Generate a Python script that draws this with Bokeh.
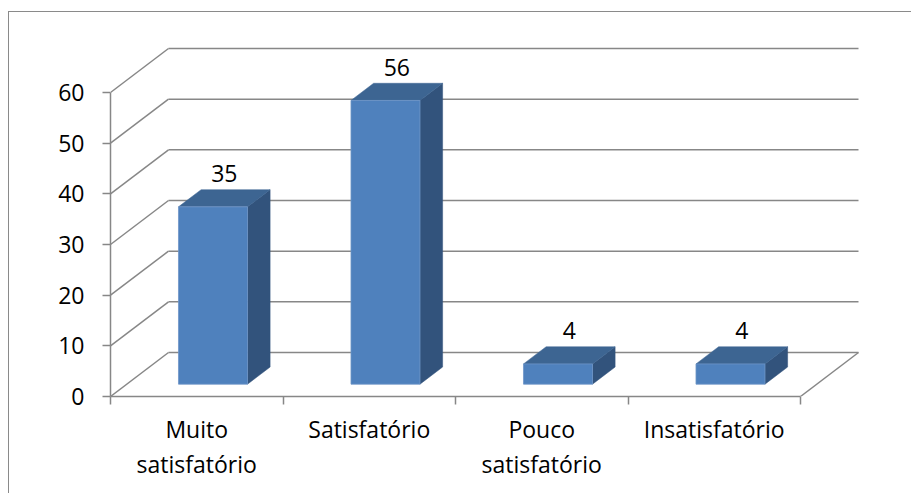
from bokeh.plotting import figure
from bokeh.models import Range1d, LinearAxis, FixedTicker, ColumnDataSource
from bokeh.core.properties import value
from bokeh.embed import file_html
from bokeh.resources import INLINE

# ---------------- data ----------------
categories = ["Muito\nsatisfatório", "Satisfatório", "Pouco\nsatisfatório", "Insatisfatório"]
values = [35, 56, 4, 4]
y_ticks = [0, 10, 20, 30, 40, 50, 60]

# ---------------- layout / style ----------------
FONT = "Open Sans"
FS = "23px"
OX, OY = 9, 12                 # canvas origin on the page (after margin + border)
W, H = 903, 482
FRAME_L, FRAME_T, FRAME_R, FRAME_B = 110, 20, 905, 396   # frame edges on the page
PX_PER_CAT = 172.5
PX_PER_VAL = 5.067
DEPTH_PX_X, DEPTH_PX_Y = 58, 44    # oblique depth of the floor
BAR_W = 0.4
BAR_F, BAR_B = 0.28, 0.67          # bar front/back depth fractions
GRID = "#878787"
FRONT, TOP, SIDE = "#4F81BD", "#3D6592", "#32537C"

DX = DEPTH_PX_X / PX_PER_CAT
DY = DEPTH_PX_Y / PX_PER_VAL
ncat = len(categories)
x_end = (FRAME_R - FRAME_L) / PX_PER_CAT
y_end = (FRAME_B - FRAME_T) / PX_PER_VAL

p = figure(width=W, height=H,
           x_range=Range1d(0, x_end), y_range=Range1d(0, y_end),
           output_backend="svg", toolbar_location=None,
           x_axis_type=None, y_axis_type=None,
           min_border_left=FRAME_L - OX, min_border_right=W - (FRAME_R - OX),
           min_border_top=FRAME_T - OY, min_border_bottom=H - (FRAME_B - OY))
p.outline_line_color = None
p.background_fill_color = "white"
p.border_fill_color = "white"
p.margin = (11, 0, 0, 8)
p.styles = {"border-top": "1px solid #8a8a8a", "border-left": "1px solid #8a8a8a"}

# ---------------- axes ----------------
yax = LinearAxis(ticker=FixedTicker(ticks=y_ticks, minor_ticks=[]), bounds=(y_ticks[0], y_ticks[-1]))
yax.axis_line_color = GRID
yax.axis_line_width = 1.5
yax.major_tick_line_color = GRID
yax.major_tick_line_width = 1.5
yax.major_tick_out = 8
yax.major_tick_in = 0
yax.minor_tick_line_color = None
yax.major_label_standoff = 18
yax.major_label_text_font = FONT
yax.major_label_text_font_size = FS
yax.major_label_text_color = "black"
p.add_layout(yax, "left")

centers = [i + 0.5 for i in range(ncat)]
xax = LinearAxis(ticker=FixedTicker(ticks=centers, minor_ticks=list(range(ncat + 1))), bounds=(0, ncat))
xax.major_label_overrides = {c: lab for c, lab in zip(centers, categories)}
xax.axis_line_color = GRID
xax.axis_line_width = 1.5
xax.major_tick_out = 0
xax.major_tick_in = 0
xax.major_tick_line_color = None
xax.minor_tick_line_color = GRID
xax.minor_tick_line_width = 1.5
xax.minor_tick_out = 8
xax.minor_tick_in = 0
xax.major_label_standoff = 8
xax.major_label_text_font = FONT
xax.major_label_text_font_size = FS
xax.major_label_text_color = "black"
xax.major_label_text_line_height = 1.1
p.add_layout(xax, "below")

# ---------------- walls / floor ----------------
# back wall gridlines
p.segment(x0=[DX] * len(y_ticks), y0=[t + DY for t in y_ticks],
          x1=[ncat + DX] * len(y_ticks), y1=[t + DY for t in y_ticks],
          line_color=GRID, line_width=1.5)
# side wall diagonals
p.segment(x0=[0] * len(y_ticks), y0=y_ticks,
          x1=[DX] * len(y_ticks), y1=[t + DY for t in y_ticks],
          line_color=GRID, line_width=1.5)
# floor right edge
p.segment(x0=[ncat], y0=[0], x1=[ncat + DX], y1=[DY], line_color=GRID, line_width=1.5)

# ---------------- 3D bars ----------------
fx, fy, tx, ty, sx, sy = [], [], [], [], [], []
for i, v in enumerate(values):
    xl = i + 0.5 - BAR_W / 2
    xr = i + 0.5 + BAR_W / 2
    fdx, fdy = BAR_F * DX, BAR_F * DY
    bdx, bdy = BAR_B * DX, BAR_B * DY
    fx.append([xl + fdx, xr + fdx, xr + fdx, xl + fdx])
    fy.append([fdy, fdy, v + fdy, v + fdy])
    tx.append([xl + fdx, xr + fdx, xr + bdx, xl + bdx])
    ty.append([v + fdy, v + fdy, v + bdy, v + bdy])
    sx.append([xr + fdx, xr + bdx, xr + bdx, xr + fdx])
    sy.append([fdy, bdy, v + bdy, v + fdy])

p.patches(xs=sx, ys=sy, fill_color=SIDE, line_color=SIDE, line_width=0.5)
p.patches(xs=tx, ys=ty, fill_color=TOP, line_color=TOP, line_width=0.5)
p.patches(xs=fx, ys=fy, fill_color=FRONT, line_color="#6E95C8", line_width=0.8)

# ---------------- value labels ----------------
lab = ColumnDataSource(dict(
    x=[i + 0.5 + (BAR_F + BAR_B) / 2 * DX for i in range(ncat)],
    y=[v + BAR_B * DY for v in values],
    t=[str(v) for v in values]))
p.text(x="x", y="y", text="t", source=lab, text_align="center", text_baseline="alphabetic",
       y_offset=-16, text_font=value(FONT), text_font_size=FS, text_color="black")

open("out.html", "w").write(file_html(p, INLINE))
